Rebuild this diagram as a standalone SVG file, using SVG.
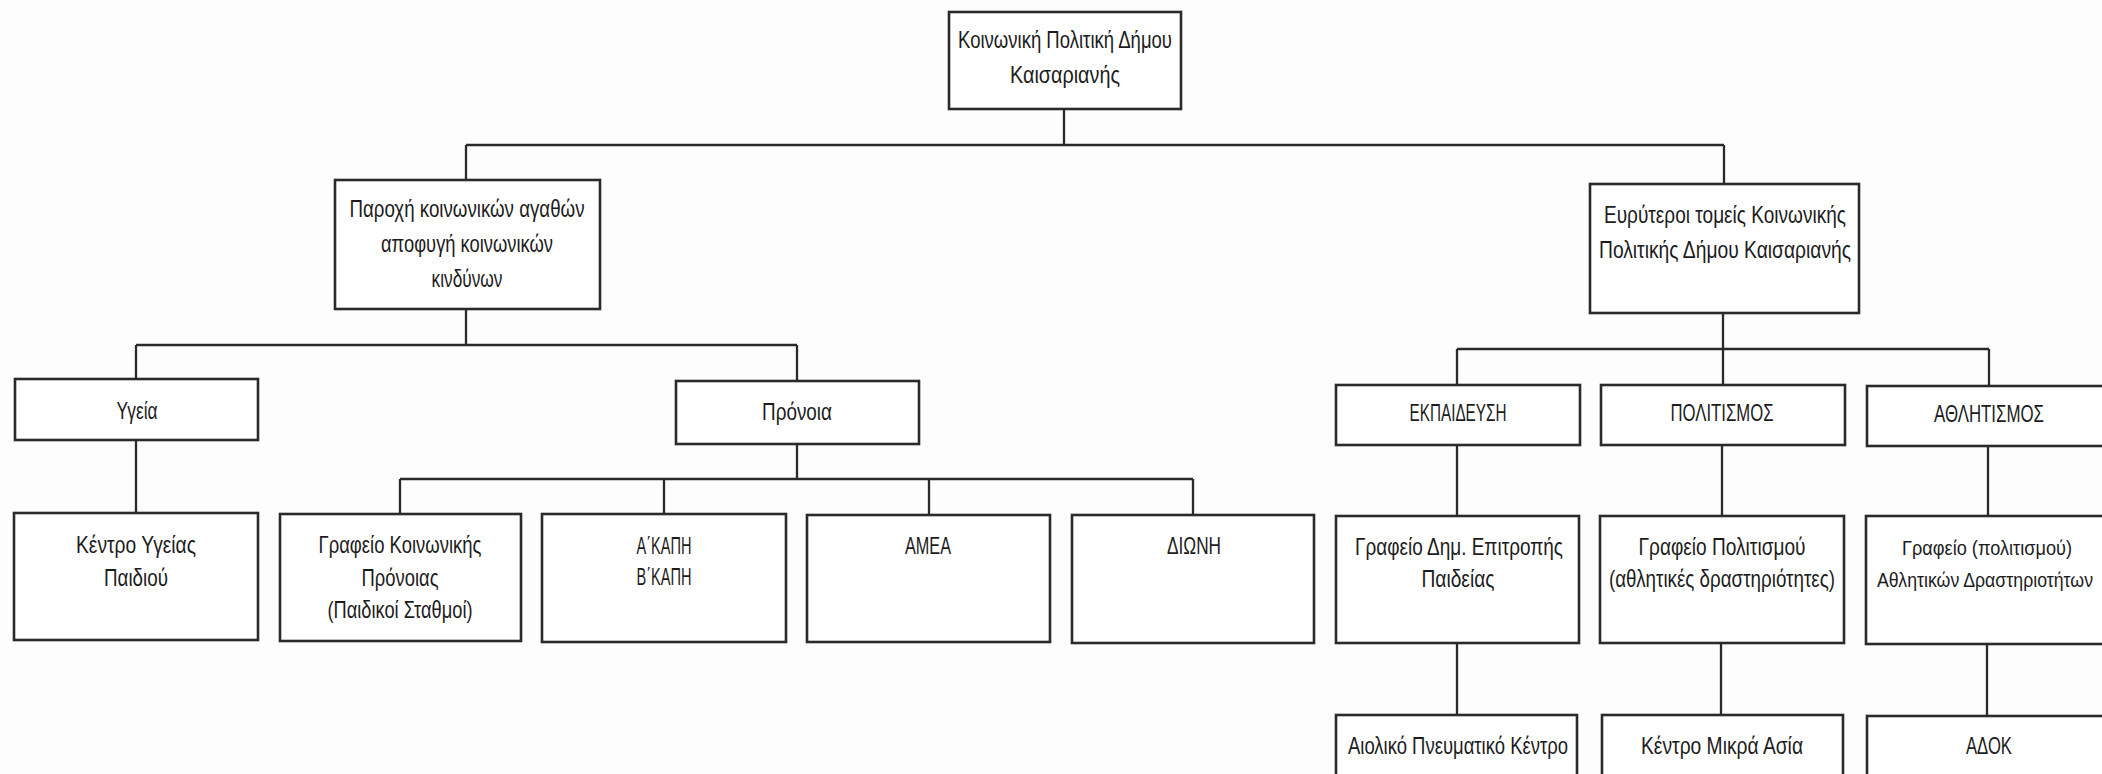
<svg xmlns="http://www.w3.org/2000/svg" width="2102" height="774" viewBox="0 0 2102 774">
<style>
.bg{fill:#fdfdfd}
.box{fill:#ffffff;stroke:#2a2a2a;stroke-width:2.6}
.t{font-family:"Liberation Sans",Arial,sans-serif;font-size:24px;fill:#1c1c1c;text-anchor:middle}
.s{font-size:21px}
.e{text-anchor:end}
.c{fill:none;stroke:#2a2a2a;stroke-width:2.3}
</style>
<rect class="bg" x="0" y="0" width="2102" height="774"/>
<g id="connectors">
<path class="c" d="M1064 109V145M466 145H1724M466 145V180M1724 145V184"/>
<path class="c" d="M466 309V345M136 345H797M136 345V379M797 345V381"/>
<path class="c" d="M136 440V513"/>
<path class="c" d="M797 444V479M400 479H1193M400 479V514M664 479V514M929 479V515M1193 479V515"/>
<path class="c" d="M1723 313V349M1457 349H1989M1457 349V385M1723 349V385M1989 349V386"/>
<path class="c" d="M1457 445V516M1722 445V516M1988 446V516"/>
<path class="c" d="M1457 643V715M1721 643V715M1987 644V716"/>
</g>
<g id="n-root"><rect class="box" x="949" y="12" width="232" height="97"/>
<text class="t" x="1065" y="48" textLength="214" lengthAdjust="spacingAndGlyphs">Κοινωνική Πολιτική Δήμου</text>
<text class="t" x="1065" y="83" textLength="110" lengthAdjust="spacingAndGlyphs">Καισαριανής</text></g>
<g id="n-paroxi"><rect class="box" x="335" y="180" width="265" height="129"/>
<text class="t" x="467" y="217" textLength="235" lengthAdjust="spacingAndGlyphs">Παροχή κοινωνικών αγαθών</text>
<text class="t" x="467" y="252" textLength="172" lengthAdjust="spacingAndGlyphs">αποφυγή κοινωνικών</text>
<text class="t" x="467" y="287" textLength="71" lengthAdjust="spacingAndGlyphs">κινδύνων</text></g>
<g id="n-eyryteroi"><rect class="box" x="1590" y="184" width="269" height="129"/>
<text class="t" x="1725" y="223" textLength="242" lengthAdjust="spacingAndGlyphs">Ευρύτεροι τομείς Κοινωνικής</text>
<text class="t" x="1725" y="258" textLength="252" lengthAdjust="spacingAndGlyphs">Πολιτικής Δήμου Καισαριανής</text></g>
<g id="n-ygeia"><rect class="box" x="15" y="379" width="243" height="61"/>
<text class="t" x="137" y="419" textLength="41" lengthAdjust="spacingAndGlyphs">Υγεία</text></g>
<g id="n-pronoia"><rect class="box" x="676" y="381" width="243" height="63"/>
<text class="t" x="797" y="420" textLength="70" lengthAdjust="spacingAndGlyphs">Πρόνοια</text></g>
<g id="n-ekpaideysi"><rect class="box" x="1336" y="385" width="244" height="60"/>
<text class="t" x="1458" y="421" textLength="97" lengthAdjust="spacingAndGlyphs">ΕΚΠΑΙΔΕΥΣΗ</text></g>
<g id="n-politismos"><rect class="box" x="1601" y="385" width="244" height="60"/>
<text class="t" x="1722" y="421" textLength="103" lengthAdjust="spacingAndGlyphs">ΠΟΛΙΤΙΣΜΟΣ</text></g>
<g id="n-athlitismos"><rect class="box" x="1867" y="386" width="244" height="60"/>
<text class="t" x="1989" y="422" textLength="110" lengthAdjust="spacingAndGlyphs">ΑΘΛΗΤΙΣΜΟΣ</text></g>
<g id="n-kentro-ygeias"><rect class="box" x="14" y="513" width="244" height="127"/>
<text class="t" x="136" y="553" textLength="120" lengthAdjust="spacingAndGlyphs">Κέντρο Υγείας</text>
<text class="t" x="136" y="586" textLength="64" lengthAdjust="spacingAndGlyphs">Παιδιού</text></g>
<g id="n-grafeio-pronoias"><rect class="box" x="280" y="514" width="241" height="127"/>
<text class="t" x="400" y="553" textLength="163" lengthAdjust="spacingAndGlyphs">Γραφείο Κοινωνικής</text>
<text class="t" x="400" y="586" textLength="77" lengthAdjust="spacingAndGlyphs">Πρόνοιας</text>
<text class="t" x="400" y="618" textLength="145" lengthAdjust="spacingAndGlyphs">(Παιδικοί Σταθμοί)</text></g>
<g id="n-kapi"><rect class="box" x="542" y="514" width="244" height="128"/>
<text class="t" x="664" y="554" textLength="55" lengthAdjust="spacingAndGlyphs">Α΄ΚΑΠΗ</text>
<text class="t" x="664" y="585" textLength="55" lengthAdjust="spacingAndGlyphs">Β΄ΚΑΠΗ</text></g>
<g id="n-amea"><rect class="box" x="807" y="515" width="243" height="127"/>
<text class="t" x="928" y="554" textLength="46" lengthAdjust="spacingAndGlyphs">ΑΜΕΑ</text></g>
<g id="n-dioni"><rect class="box" x="1072" y="515" width="242" height="128"/>
<text class="t" x="1194" y="554" textLength="54" lengthAdjust="spacingAndGlyphs">ΔΙΩΝΗ</text></g>
<g id="n-grafeio-paideias"><rect class="box" x="1336" y="516" width="243" height="127"/>
<text class="t" x="1459" y="555" textLength="208" lengthAdjust="spacingAndGlyphs">Γραφείο Δημ. Επιτροπής</text>
<text class="t" x="1458" y="587" textLength="73" lengthAdjust="spacingAndGlyphs">Παιδείας</text></g>
<g id="n-grafeio-politismou"><rect class="box" x="1600" y="516" width="244" height="127"/>
<text class="t" x="1722" y="555" textLength="167" lengthAdjust="spacingAndGlyphs">Γραφείο Πολιτισμού</text>
<text class="t" x="1722" y="587" textLength="226" lengthAdjust="spacingAndGlyphs">(αθλητικές δραστηριότητες)</text></g>
<g id="n-grafeio-athlitikon"><rect class="box" x="1866" y="516" width="244" height="128"/>
<text class="t s" x="1987" y="555" textLength="170" lengthAdjust="spacingAndGlyphs">Γραφείο (πολιτισμού)</text>
<text class="t s e" x="2093" y="587" textLength="216" lengthAdjust="spacingAndGlyphs">Αθλητικών Δραστηριοτήτων</text></g>
<g id="n-aioliko"><rect class="box" x="1336" y="715" width="241" height="80"/>
<text class="t" x="1458" y="754" textLength="220" lengthAdjust="spacingAndGlyphs">Αιολικό Πνευματικό Κέντρο</text></g>
<g id="n-mikra-asia"><rect class="box" x="1602" y="715" width="241" height="80"/>
<text class="t" x="1722" y="754" textLength="162" lengthAdjust="spacingAndGlyphs">Κέντρο Μικρά Ασία</text></g>
<g id="n-adok"><rect class="box" x="1867" y="716" width="244" height="80"/>
<text class="t" x="1989" y="754" textLength="46" lengthAdjust="spacingAndGlyphs">ΑΔΟΚ</text></g>
</svg>
